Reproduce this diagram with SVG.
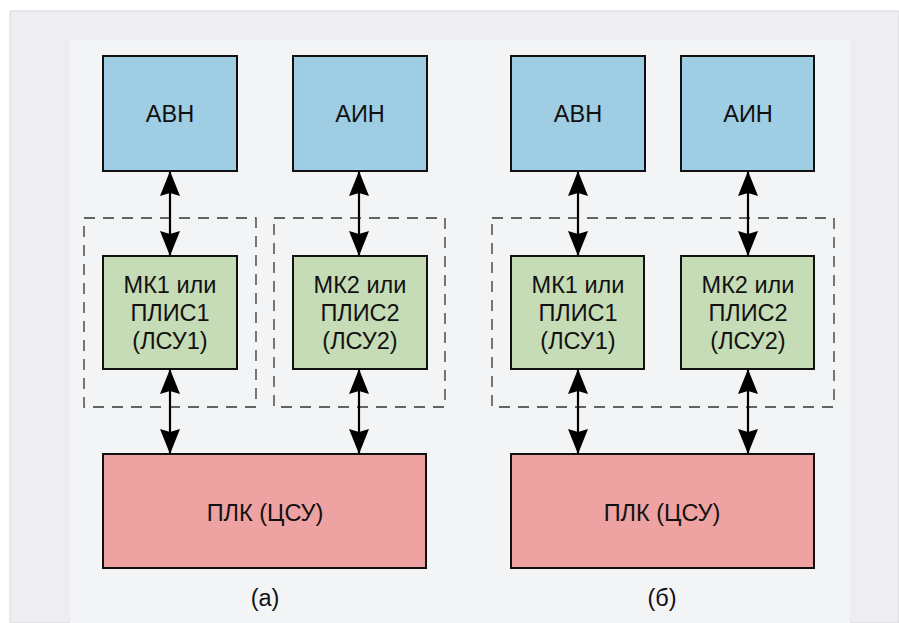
<svg xmlns="http://www.w3.org/2000/svg" width="899" height="623" viewBox="0 0 899 623">
<defs>
<marker id="ah" viewBox="0 0 25 20" refX="24" refY="10" markerWidth="25" markerHeight="20" markerUnits="userSpaceOnUse" orient="auto-start-reverse">
<path d="M0,0 L25,10 L0,20 L3,10 Z" fill="#000"/>
</marker>
</defs>
<style>
text{font-family:"Liberation Sans",Arial,sans-serif;font-size:23.5px;fill:#111;text-anchor:middle}
.b{stroke:#111;stroke-width:2}
.blue{fill:#9fcde3}
.green{fill:#c6dcb6}
.red{fill:#efa2a2}
.dash{fill:none;stroke:#333;stroke-width:1.3;stroke-dasharray:11 8}
.c{stroke:#000;stroke-width:2.2;fill:none;marker-start:url(#ah);marker-end:url(#ah)}
</style>
<rect x="0" y="0" width="899" height="623" fill="#ffffff"/>
<rect x="10" y="11" width="889" height="612" fill="#eeeef2" stroke="#d8d8dc" stroke-width="1"/>
<rect x="70" y="40" width="780" height="583" fill="#f3f4f6"/>
<g id="containers">
<rect class="dash" x="84" y="218" width="172" height="189"/>
<rect class="dash" x="274" y="218" width="171" height="189"/>
<rect class="dash" x="492" y="218" width="342" height="189"/>
</g>
<g id="connectors">
<line class="c" x1="170" y1="172" x2="170" y2="255"/>
<line class="c" x1="359" y1="172" x2="359" y2="255"/>
<line class="c" x1="170" y1="370" x2="170" y2="453"/>
<line class="c" x1="359" y1="370" x2="359" y2="453"/>
<line class="c" x1="578" y1="172" x2="578" y2="255"/>
<line class="c" x1="748" y1="172" x2="748" y2="255"/>
<line class="c" x1="578" y1="370" x2="578" y2="453"/>
<line class="c" x1="748" y1="370" x2="748" y2="453"/>
</g>
<g id="a-avn"><rect class="b blue" x="103" y="56" width="134" height="115"/><text x="170" y="122">АВН</text></g>
<g id="a-ain"><rect class="b blue" x="293" y="56" width="134" height="115"/><text x="360" y="122">АИН</text></g>
<g id="a-mk1"><rect class="b green" x="103" y="256" width="134" height="113"/><text x="170" y="293">МК1 или</text><text x="170" y="321">ПЛИС1</text><text x="170" y="349">(ЛСУ1)</text></g>
<g id="a-mk2"><rect class="b green" x="293" y="256" width="134" height="113"/><text x="360" y="293">МК2 или</text><text x="360" y="321">ПЛИС2</text><text x="360" y="349">(ЛСУ2)</text></g>
<g id="a-plk"><rect class="b red" x="103" y="454" width="323" height="114"/><text x="265" y="521">ПЛК (ЦСУ)</text></g>
<g id="b-avn"><rect class="b blue" x="511" y="56" width="134" height="115"/><text x="578" y="122">АВН</text></g>
<g id="b-ain"><rect class="b blue" x="681" y="56" width="133" height="115"/><text x="748" y="122">АИН</text></g>
<g id="b-mk1"><rect class="b green" x="511" y="256" width="133" height="113"/><text x="578" y="293">МК1 или</text><text x="578" y="321">ПЛИС1</text><text x="578" y="349">(ЛСУ1)</text></g>
<g id="b-mk2"><rect class="b green" x="681" y="256" width="133" height="113"/><text x="748" y="293">МК2 или</text><text x="748" y="321">ПЛИС2</text><text x="748" y="349">(ЛСУ2)</text></g>
<g id="b-plk"><rect class="b red" x="511" y="454" width="303" height="114"/><text x="662" y="521">ПЛК (ЦСУ)</text></g>
<g id="captions"><text x="265" y="606">(а)</text><text x="662" y="606">(б)</text></g>
</svg>
